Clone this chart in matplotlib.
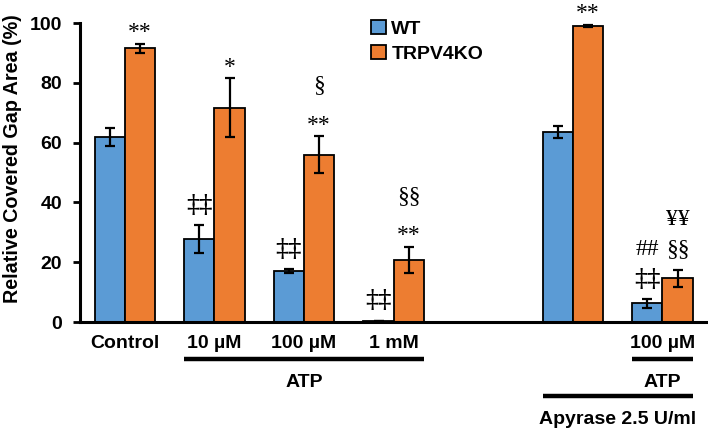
import matplotlib
matplotlib.use("Agg")
import matplotlib.pyplot as plt
import numpy as np
from matplotlib.patches import Patch

# group positions (slot 4 left empty as a gap)
positions = [0, 1, 2, 3, 5, 6]
group_labels = ["Control", "10 µM", "100 µM", "1 mM", "", "100 µM"]

wt_values = [62.0, 27.7, 17.0, 0.5, 63.5, 6.2]
wt_errors = [3.0, 4.6, 0.6, 0.0, 2.0, 1.4]
ko_values = [91.5, 71.7, 56.0, 20.8, 99.1, 14.6]
ko_errors = [1.6, 9.8, 6.2, 4.3, 0.3, 2.9]

# significance marks, listed bottom to top
wt_marks = [[], ["‡‡"], ["‡‡"], ["‡‡"], [], ["‡‡", "##"]]
ko_marks = [["**"], ["*"], ["**", "§"], ["**", "§§"], ["**"], ["§§", "¥¥"]]

BLUE = "#5B9BD5"
ORANGE = "#ED7D31"
SANS = "Liberation Sans"
SERIF = "Liberation Serif"

fig = plt.figure(figsize=(7.08, 4.34), dpi=100)
ax = fig.add_axes([0.113, 0.258, 0.886, 0.689])

width = 0.337
x = np.array(positions, dtype=float)
ax.bar(x - width / 2, wt_values, width, color=BLUE, edgecolor="black",
       linewidth=1.3, label="WT", zorder=2)
ax.bar(x + width / 2, ko_values, width, color=ORANGE, edgecolor="black",
       linewidth=1.3, label="TRPV4KO", zorder=2)
ax.errorbar(x - width / 2, wt_values, yerr=wt_errors, fmt="none",
            ecolor="black", elinewidth=1.6, capsize=3.5, capthick=1.6, zorder=3)
ax.errorbar(x + width / 2, ko_values, yerr=ko_errors, fmt="none",
            ecolor="black", elinewidth=1.6, capsize=3.5, capthick=1.6, zorder=3)


def put_marks(xs, vals, errs, marks):
    for xi, v, e, ms in zip(xs, vals, errs, marks):
        for i, m in enumerate(ms):
            first = 11 if "*" in m else 20
            off = first + i * 30
            fam = "DejaVu Serif" if "‡" in m else SERIF
            size = 19 if "‡" in m else 17
            ax.annotate(m, xy=(xi, v + e), xytext=(0, off * 0.72),
                        textcoords="offset points", ha="center", va="center",
                        fontsize=size, family=fam, annotation_clip=False)


put_marks(x - width / 2, wt_values, wt_errors, wt_marks)
put_marks(x + width / 2, ko_values, ko_errors, ko_marks)

ax.set_xlim(-0.5, 6.5)
ax.set_ylim(0, 100)
ax.set_yticks(np.arange(0, 101, 20))
ax.set_xticks(x)
ax.set_xticklabels(group_labels)
for lbl in ax.get_xticklabels() + ax.get_yticklabels():
    lbl.set_fontfamily(SANS)
    lbl.set_fontweight("bold")
    lbl.set_fontsize(14)
ax.tick_params(axis="x", length=0, pad=9)
ax.tick_params(axis="y", length=5, width=2, direction="out", pad=8)

for s in ["top", "right"]:
    ax.spines[s].set_visible(False)
for s in ["left", "bottom"]:
    ax.spines[s].set_linewidth(2.2)

ax.set_ylabel("Relative Covered Gap Area (%)", fontfamily=SANS,
              fontweight="bold", fontsize=14.2)
ax.yaxis.set_label_coords(-0.093, 0.545)

# treatment bars and labels below the axis
trans = ax.get_xaxis_transform()


def bracket(x0, x1, y, text, ty):
    ax.plot([x0, x1], [y, y], color="black", linewidth=3.2,
            transform=trans, clip_on=False, solid_capstyle="butt")
    ax.text((x0 + x1) / 2, ty, text, transform=trans, ha="center",
            va="center", fontfamily=SANS, fontweight="bold", fontsize=14)


bracket(x[1] - width, x[3] + width, -0.124, "ATP", -0.203)
bracket(x[5] - width, x[5] + width, -0.124, "ATP", -0.203)
bracket(x[4] - width, x[5] + width, -0.247, "Apyrase 2.5 U/ml", -0.325)

handles = [Patch(facecolor=BLUE, edgecolor="black", linewidth=1.3, label="WT"),
           Patch(facecolor=ORANGE, edgecolor="black", linewidth=1.3,
                 label="TRPV4KO")]
ax.legend(handles=handles, loc="upper left", bbox_to_anchor=(0.464, 1.01),
          frameon=False, borderpad=0, borderaxespad=0, handlelength=0.75,
          handleheight=0.75, handletextpad=0.3, labelspacing=0.35,
          prop={"family": SANS, "weight": "bold", "size": 14})

fig.savefig("out.png", dpi=100)
